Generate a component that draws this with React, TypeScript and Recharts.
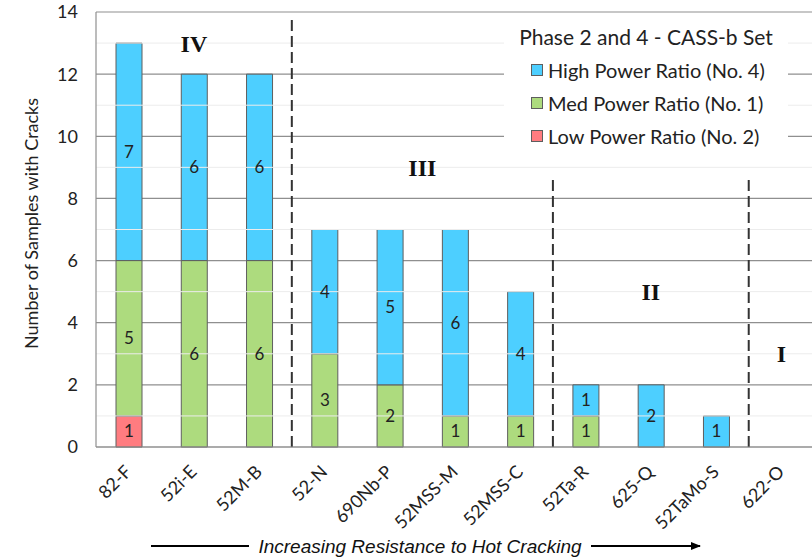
import { Bar, BarChart, CartesianGrid, LabelList, Legend, ReferenceDot, ReferenceLine, XAxis, YAxis } from "recharts"

const alloys = ["82-F", "52i-E", "52M-B", "52-N", "690Nb-P", "52MSS-M", "52MSS-C", "52Ta-R", "625-Q", "52TaMo-S", "622-O"]
const lowPower = [1, 0, 0, 0, 0, 0, 0, 0, 0, 0, 0]
const medPower = [5, 6, 6, 3, 2, 1, 1, 1, 0, 0, 0]
const highPower = [7, 6, 6, 4, 5, 6, 4, 1, 2, 1, 0]

const yTicks = [0, 2, 4, 6, 8, 10, 12, 14]
const minorLines = [1, 3, 5, 7, 9, 11, 13]

// group boundaries on the 0..11 position scale, with how high each dashed line reaches
const boundaries = [
  { x: 3, top: 13.8 },
  { x: 7, top: 8.75 },
  { x: 10, top: 8.75 },
]
const groups = [
  { name: "IV", x: 1.5, y: 13 },
  { name: "III", x: 5, y: 9 },
  { name: "II", x: 8.5, y: 5 },
  { name: "I", x: 10.5, y: 3 },
]

const series = [
  { key: "high", name: "High Power Ratio (No. 4)", color: "#4dcfff" },
  { key: "med", name: "Med Power Ratio (No. 1)", color: "#addb7e" },
  { key: "low", name: "Low Power Ratio (No. 2)", color: "#ff7c80" },
]

const data = alloys.map((name, i) => ({
  name,
  pos: i + 0.5,
  low: lowPower[i],
  med: medPower[i],
  high: highPower[i],
}))

const FONT = "Lato, 'Open Sans', sans-serif"
const EDGE = "#5e5e5e"

const SlantTick = ({ x, y, payload }: any) => {
  const tx = x + 4
  const ty = y + 18
  return (
    <text x={tx} y={ty} transform={`rotate(-45 ${tx} ${ty})`} textAnchor="end" fontSize={18} fontFamily={FONT} fill="#222">
      {payload.value}
    </text>
  )
}

const LegendBox = () => (
  <div style={{ background: "#fff", fontFamily: FONT, color: "#222", padding: "2px 0 6px 0" }}>
    <div style={{ fontSize: 21, textAlign: "center", marginBottom: 4 }}>Phase 2 and 4 - CASS-b Set</div>
    {series.map((s) => (
      <div key={s.key} style={{ display: "flex", alignItems: "center", fontSize: 20, height: 33, paddingLeft: 27 }}>
        <span style={{ width: 10, height: 10, background: s.color, border: `1px solid ${EDGE}`, marginRight: 5 }} />
        {s.name}
      </div>
    ))}
  </div>
)

const hideZero = (v: any) => (v ? v : "")
const valueStyle = { fontSize: 17, fontFamily: FONT, fill: "#222" }

export default function App() {
  return (
    <div style={{ position: "absolute", left: 0, top: 0, width: 812, height: 558, overflow: "hidden", background: "#fff" }}>
      <BarChart width={816} height={558} data={data} margin={{ top: 12, right: 2, left: 0, bottom: 0 }}>
        {minorLines.map((v) => (
          <ReferenceLine key={v} y={v} stroke="#ececec" strokeWidth={1} ifOverflow="extendDomain" />
        ))}
        <CartesianGrid vertical={false} stroke="#8f8f8f" strokeWidth={1.2} />
        <XAxis
          dataKey="name"
          height={111}
          interval={0}
          tickLine={false}
          axisLine={{ stroke: "#8f8f8f", strokeWidth: 1.2 }}
          tick={<SlantTick />}
        />
        <XAxis xAxisId="pos" dataKey="pos" type="number" domain={[0, 11]} allowDataOverflow hide />
        <YAxis
          width={96}
          domain={[0, 14]}
          ticks={yTicks}
          interval={0}
          tickLine={false}
          tickSize={10}
          tickMargin={8}
          axisLine={{ stroke: "#8f8f8f", strokeWidth: 1.2 }}
          tick={{ fontSize: 18, fontFamily: FONT, fill: "#222" }}
          label={{
            value: "Number of Samples with Cracks",
            angle: -90,
            position: "insideLeft",
            dx: 27,
            dy: -6,
            style: { fontSize: 18, fontFamily: FONT, fill: "#222", textAnchor: "middle" },
          }}
        />
        <Legend layout="vertical" align="center" verticalAlign="middle" wrapperStyle={{ left: 504, top: 22, width: 284, height: "auto" }} content={<LegendBox />} />
        <Bar dataKey="low" name="Low Power Ratio (No. 2)" stackId="s" fill="#ff7c80" stroke={EDGE} strokeWidth={1} barSize={26} isAnimationActive={false}>
          <LabelList dataKey="low" position="center" formatter={hideZero} style={valueStyle} />
        </Bar>
        <Bar dataKey="med" name="Med Power Ratio (No. 1)" stackId="s" fill="#addb7e" stroke={EDGE} strokeWidth={1} barSize={26} isAnimationActive={false}>
          <LabelList dataKey="med" position="center" formatter={hideZero} style={valueStyle} />
        </Bar>
        <Bar dataKey="high" name="High Power Ratio (No. 4)" stackId="s" fill="#4dcfff" stroke={EDGE} strokeWidth={1} barSize={26} isAnimationActive={false}>
          <LabelList dataKey="high" position="center" formatter={hideZero} style={valueStyle} />
        </Bar>
        {boundaries.map((b) => (
          <ReferenceLine
            key={b.x}
            xAxisId="pos"
            segment={[{ x: b.x, y: 0 }, { x: b.x, y: b.top }]}
            stroke="#333"
            strokeWidth={2}
            strokeDasharray="11 5"
          />
        ))}
        {groups.map((g) => (
          <ReferenceDot
            key={g.name}
            xAxisId="pos"
            x={g.x}
            y={g.y}
            r={0}
            stroke="none"
            label={{
              value: g.name,
              position: "center",
              style: { fontSize: 24, fontWeight: "bold", fontFamily: "'Liberation Serif', 'DejaVu Serif', serif", fill: "#111" },
            }}
          />
        ))}
      </BarChart>
      <svg width={812} height={558} style={{ position: "absolute", left: 0, top: 0, pointerEvents: "none" }}>
        <defs>
          <marker id="head" markerWidth="10" markerHeight="8" refX="9" refY="4" orient="auto" markerUnits="userSpaceOnUse">
            <path d="M0,0 L10,4 L0,8 Z" fill="#000" />
          </marker>
        </defs>
        <line x1={151} y1={546} x2={249} y2={546} stroke="#000" strokeWidth={2} />
        <line x1={591} y1={546} x2={700} y2={546} stroke="#000" strokeWidth={2} markerEnd="url(#head)" />
        <text x={420} y={553} textAnchor="middle" fontSize={19} fontStyle="italic" fontFamily="'Liberation Sans', Arial, sans-serif" fill="#111">
          Increasing Resistance to Hot Cracking
        </text>
      </svg>
    </div>
  )
}
